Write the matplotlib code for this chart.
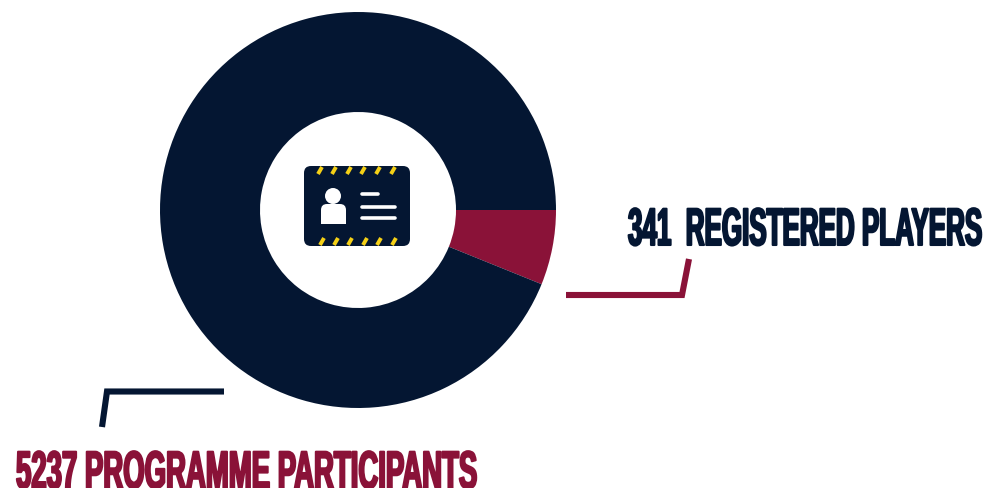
#!/bin/python3
# -*- coding: utf-8 -*-

# file name: plot.py

import matplotlib as mplt
mplt.use("Agg")
import matplotlib.pyplot as plt
from matplotlib.patches import Circle, FancyBboxPatch, Rectangle
from matplotlib.patheffects import AbstractPathEffect
from matplotlib.transforms import Affine2D

NAVY = "#041632"
MAROON = "#8a1238"
YELLOW = "#f5d016"
HEIGHT = 488

# wedges are sized from the two counts printed in the labels
registered_players = 341
programme_participants = 5237
slice_values = [registered_players, programme_participants]
slice_colors = [MAROON, NAVY]
top_label = f"{registered_players}  REGISTERED PLAYERS"
bottom_label = f"{programme_participants} PROGRAMME PARTICIPANTS"


class Condensed(AbstractPathEffect):
    # stretch the glyphs tall and fatten them a bit, no heavy condensed font here
    def __init__(self, xscale, yscale, extra=1.0, drop=0):
        super().__init__()
        self.xscale = xscale
        self.yscale = yscale
        self.extra = extra
        self.drop = drop

    def draw_path(self, renderer, gc, tpath, affine, rgbFace=None):
        gc0 = renderer.new_gc()
        gc0.copy_properties(gc)
        gc0.set_linewidth(self.extra)
        gc0.set_foreground(rgbFace)
        shape = Affine2D().scale(self.xscale, self.yscale) + affine + Affine2D().translate(0, -self.drop)
        renderer.draw_path(gc0, tpath, shape, rgbFace)
        gc0.restore()


def py(y):
    # axes run bottom-up, positions below are counted from the top
    return HEIGHT - y


def draw_card(ax):
    ax.add_patch(FancyBboxPatch((311, py(239)), 92, 66, boxstyle="round,pad=7,rounding_size=7",
                                facecolor=NAVY, edgecolor="none"))

    # yellow dashes along both edges of the card
    for x in [320, 334, 349, 363, 378, 393]:
        ax.plot([x - 2, x + 2], [py(174), py(167)], color=YELLOW, linewidth=2.8, solid_capstyle="butt")
    for x in [322, 336, 350, 365, 379, 394]:
        ax.plot([x - 2, x + 2], [py(245), py(238)], color=YELLOW, linewidth=2.8, solid_capstyle="butt")

    # person
    ax.add_patch(Circle((333, py(196)), 8, facecolor="white", edgecolor="none"))
    ax.add_patch(FancyBboxPatch((327, py(218)), 13, 8, boxstyle="round,pad=6,rounding_size=6",
                                facecolor="white", edgecolor="none"))
    ax.add_patch(Rectangle((321, py(224)), 25, 7, facecolor="white", edgecolor="none"))

    # text lines
    for x_end, y in [(378, 194), (395, 207), (395, 218)]:
        ax.plot([362, x_end], [py(y), py(y)], color="white", linewidth=2.6, solid_capstyle="round")


fig = plt.figure(figsize=(9.89, 4.88), dpi=100)
ax = fig.add_axes([0, 0, 1, 1])

ax.pie(slice_values, colors=slice_colors, center=(358, py(210)), radius=198,
       startangle=0, counterclock=False, wedgeprops={"width": 100, "linewidth": 0})

ax.set_xlim(0, 989)
ax.set_ylim(0, HEIGHT)
ax.axis("off")

draw_card(ax)

# leader lines
ax.plot([566, 682, 689], [py(295), py(295), py(259)], color=MAROON, linewidth=4.4,
        solid_joinstyle="miter", solid_capstyle="butt")
ax.plot([224, 107, 102], [py(391.5), py(391.5), py(427)], color=NAVY, linewidth=4.4,
        solid_joinstyle="miter", solid_capstyle="butt")

font = ["Liberation Sans Narrow", "Liberation Sans"]
ax.text(628, py(245), top_label, color=NAVY, fontsize=18.8, fontweight="bold", family=font,
        ha="left", va="baseline", path_effects=[Condensed(0.995, 2.02, 1.5)])
ax.text(16, py(481), bottom_label, color=MAROON, fontsize=18.8, fontweight="bold", family=font,
        ha="left", va="baseline", path_effects=[Condensed(1.055, 2.02, 1.5, drop=7)])

plt.savefig("out.png", dpi=100, format="png")
